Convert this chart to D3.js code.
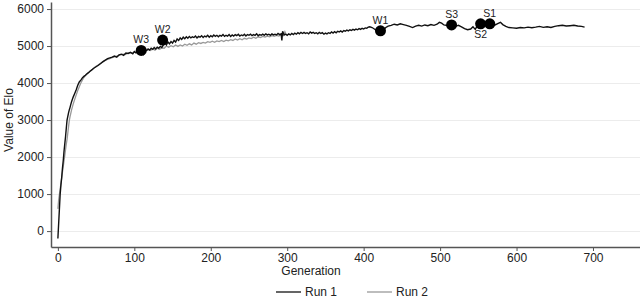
<!DOCTYPE html>
<html>
<head>
<meta charset="utf-8">
<script src="https://cdn.jsdelivr.net/npm/d3@7"></script>
<style>
  body { margin: 0; background: #fff; }
  svg { display: block; font-family: "Liberation Sans", Arial, sans-serif; }
</style>
</head>
<body>
<svg id="chart" width="640" height="299"></svg>
<script>
// Elo value per generation, [generation, elo]
const run1 = [
  [0,-200],[1,200],[2,600],[3,1000],[4,1250],[5,1450],[6,1700],[7,1900],[8,2150],[9,2350],
  [10,2550],[11,2780],[12,3000],[13,3100],[14,3200],[15,3280],[16,3350],[17,3430],[18,3500],
  [20,3620],[22,3720],[24,3820],[26,3940],[28,4030],[30,4080],[32,4140],[34,4180],[36,4210],
  [38,4250],[40,4280],[42,4320],[44,4350],[47,4400],[50,4440],[53,4480],[56,4530],[59,4580],
  [62,4620],[65,4660],[68,4680],[71,4700],[74,4730],[77,4700],[80,4760],[83,4780],[86,4750],
  [89,4810],[92,4800],[95,4830],[98,4790],
  [100,4850],[102,4820],[104,4870],[106,4840],[108,4890],[110,4860],[112,4780],[114,4900],
  [116,4880],[118,4920],[120,4890],[122,4940],[124,4910],[126,4960],[128,4920],[130,4970],
  [132,4940],[134,4990],[136,4960],[138,5030],[140,5090],[142,5030],[144,5110],[146,5060],
  [148,5120],[150,5080],[152,5150],[154,5110],[156,5190],[158,5150],[160,5220],[162,5180],
  [164,5240],[166,5200],[168,5250],[170,5210],[172,5260],[174,5220],[176,5250],[178,5230],
  [180,5270],[182,5220],[184,5260],[186,5240],[188,5280],[190,5230],[192,5270],[194,5250],
  [196,5290],[198,5240],[200,5280],[202,5250],[204,5300],[206,5260],[208,5290],[210,5250],
  [212,5290],[214,5270],[216,5310],[218,5260],[220,5290],[222,5270],[224,5310],[226,5260],
  [228,5300],[230,5270],[232,5310],[234,5280],[236,5320],[238,5270],[240,5300],[242,5280],
  [244,5320],[246,5270],[248,5310],[250,5290],[252,5320],[254,5280],[256,5310],[258,5290],
  [260,5330],[262,5280],[264,5310],[266,5290],[268,5320],[270,5290],[272,5330],[274,5300],
  [276,5320],[278,5290],[280,5330],[282,5300],[284,5320],[286,5300],[288,5340],[290,5310],
  [292,5330],[293,5150],[294,5400],[296,5300],[298,5320],[300,5290],[302,5330],[304,5300],
  [306,5340],[308,5310],[310,5350],[312,5320],[314,5360],[316,5330],[318,5370],[320,5340],
  [322,5370],[324,5340],[326,5360],[328,5330],[330,5380],[332,5350],[334,5370],[336,5340],
  [338,5360],[340,5330],[342,5370],[344,5340],[346,5360],[348,5320],[350,5350],[352,5330],
  [354,5360],[356,5340],[358,5380],[360,5350],[362,5390],[364,5360],[366,5400],[368,5380],
  [370,5410],[372,5380],[374,5420],[376,5400],[378,5430],[380,5410],[382,5440],[384,5420],
  [386,5450],[388,5430],[390,5460],[392,5440],[394,5470],[396,5450],[398,5480],[400,5460],
  [402,5490],[404,5480],[406,5510],[408,5520],[411,5500],[414,5460],[417,5420],[420,5400],
  [423,5410],[426,5440],[429,5500],[432,5540],[436,5560],[440,5590],[444,5570],[448,5600],
  [452,5580],[456,5560],[460,5530],[464,5500],[468,5540],[472,5560],[476,5540],[480,5570],
  [484,5550],[488,5580],[492,5560],[496,5590],[499,5640],[502,5620],[505,5570],[508,5560],
  [512,5550],[515,5570],[518,5560],[521,5540],[524,5560],[528,5520],[532,5470],[536,5440],
  [540,5460],[543,5520],[546,5450],[549,5560],[552,5600],[556,5600],[560,5610],[564,5600],
  [568,5590],[572,5570],[576,5610],[579,5640],[582,5580],[586,5530],[590,5500],[595,5490],
  [600,5480],[605,5500],[610,5490],[615,5510],[620,5495],[625,5510],[630,5530],[635,5505],
  [640,5520],[645,5500],[650,5530],[655,5550],[660,5560],[665,5540],[670,5550],[675,5560],
  [680,5540],[685,5530],[689,5510]
];

const run2 = [
  [0,600],[1,840],[2,990],[3,1140],[4,1290],[5,1440],[6,1590],[7,1740],[8,1890],[9,2040],
  [10,2200],[11,2350],[12,2480],[13,2650],[14,2830],[15,3000],[16,3100],[18,3280],[20,3430],
  [22,3560],[24,3680],[26,3800],[28,3900],[30,4000],[32,4080],[34,4150],[36,4200],[38,4240],
  [40,4280],[43,4330],[46,4390],[49,4440],[52,4480],[55,4520],[58,4560],[61,4600],[64,4630],
  [67,4650],[70,4680],[73,4700],[76,4720],[79,4740],[82,4760],[85,4780],[88,4770],[91,4800],
  [94,4820],[97,4810],
  [100,4840],[103,4820],[106,4870],[109,4850],[112,4890],[115,4860],[118,4900],[121,4880],
  [124,4920],[127,4890],[130,4940],[133,4910],[136,4950],[139,4940],[142,5000],[145,4970],
  [148,5010],[151,4980],[154,5030],[157,4990],[160,5030],[163,5000],[166,5050],[169,5020],
  [172,5060],[175,5030],[178,5080],[181,5050],[184,5090],[187,5070],[190,5100],[193,5080],
  [196,5120],[199,5100],[202,5130],[205,5100],[208,5140],[211,5120],[214,5150],[217,5120],
  [220,5160],[223,5140],[226,5170],[229,5150],[232,5190],[235,5160],[238,5200],[241,5170],
  [244,5210],[247,5190],[250,5220],[253,5200],[256,5240],[259,5210],[262,5250],[265,5230],
  [268,5260],[271,5240],[274,5270],[277,5250],[280,5280],[283,5260],[286,5290],[289,5270],
  [292,5300],[295,5280],[297,5390],[299,5300]
];

// highlighted individuals on run 1
const markerNames = ['W3', 'W2', 'W1', 'S3', 'S2', 'S1'];
const markerGen = [109, 137, 422, 515, 553, 565];
const markerElo = [4880, 5160, 5410, 5570, 5600, 5600];
const markerBelow = [false, false, false, false, true, false];

const xTicks = [0, 100, 200, 300, 400, 500, 600, 700];
const yTicks = [0, 1000, 2000, 3000, 4000, 5000, 6000];

const svg = d3.select('#chart');
const margin = { left: 51, right: 0, top: 2, bottom: 52 };
const width = 640, height = 299;

const x = d3.scaleLinear().domain([-9, 761.5]).range([margin.left, width - margin.right]);
const y = d3.scaleLinear().domain([-430, 6190]).range([height - margin.bottom, margin.top]);

// horizontal grid
svg.append('g')
  .selectAll('line')
  .data(yTicks)
  .join('line')
  .attr('x1', margin.left)
  .attr('x2', width)
  .attr('y1', (d) => Math.round(y(d)) + 0.5)
  .attr('y2', (d) => Math.round(y(d)) + 0.5)
  .attr('stroke', '#ececec')
  .attr('stroke-width', 1);

const axisColor = '#555';
const textColor = '#222';

const xAxis = svg.append('g')
  .attr('transform', `translate(0,${height - margin.bottom})`)
  .call(d3.axisBottom(x).tickValues(xTicks).tickSize(4).tickSizeOuter(0).tickPadding(2));

const yAxis = svg.append('g')
  .attr('transform', `translate(${margin.left},0)`)
  .call(d3.axisLeft(y).tickValues(yTicks).tickFormat(d3.format('d')).tickSize(4).tickSizeOuter(0).tickPadding(3));

[xAxis, yAxis].forEach((a) => {
  a.select('.domain').attr('stroke', axisColor).attr('stroke-width', 1.5);
  a.selectAll('.tick line').attr('stroke', axisColor);
  a.selectAll('.tick text')
    .attr('fill', textColor)
    .style('font-size', '12px')
    .style('font-family', '"Liberation Sans", Arial, sans-serif');
});

// axis titles
svg.append('text')
  .attr('x', 311)
  .attr('y', 275)
  .attr('text-anchor', 'middle')
  .attr('fill', textColor)
  .style('font-size', '12px')
  .text('Generation');

svg.append('text')
  .attr('transform', 'translate(13,120) rotate(-90)')
  .attr('text-anchor', 'middle')
  .attr('fill', textColor)
  .style('font-size', '12px')
  .text('Value of Elo');

const line = d3.line()
  .x((d) => x(d[0]))
  .y((d) => y(d[1]));

svg.append('path')
  .datum(run2)
  .attr('fill', 'none')
  .attr('stroke', '#999')
  .attr('stroke-width', 1.3)
  .attr('d', line);

svg.append('path')
  .datum(run1)
  .attr('fill', 'none')
  .attr('stroke', '#111')
  .attr('stroke-width', 1.4)
  .attr('d', line);

// markers and their labels
const markers = svg.append('g')
  .selectAll('g')
  .data(markerNames)
  .join('g')
  .attr('transform', (d, i) => `translate(${x(markerGen[i])},${y(markerElo[i])})`);

markers.append('circle')
  .attr('r', 5.5)
  .attr('fill', '#000');

markers.append('text')
  .attr('y', (d, i) => (markerBelow[i] ? 14 : -7))
  .attr('text-anchor', 'middle')
  .attr('fill', textColor)
  .style('font-size', '10.5px')
  .text((d) => d);

// legend
const legendItems = [
  { name: 'Run 1', color: '#111', x: 276 },
  { name: 'Run 2', color: '#999', x: 367 }
];
const legend = svg.append('g')
  .selectAll('g')
  .data(legendItems)
  .join('g')
  .attr('transform', (d) => `translate(${d.x},292)`);

legend.append('line')
  .attr('x1', 0)
  .attr('x2', 25)
  .attr('stroke', (d) => d.color)
  .attr('stroke-width', 1.3);

legend.append('text')
  .attr('x', 29)
  .attr('y', 4)
  .attr('fill', textColor)
  .style('font-size', '12px')
  .text((d) => d.name);
</script>
</body>
</html>
